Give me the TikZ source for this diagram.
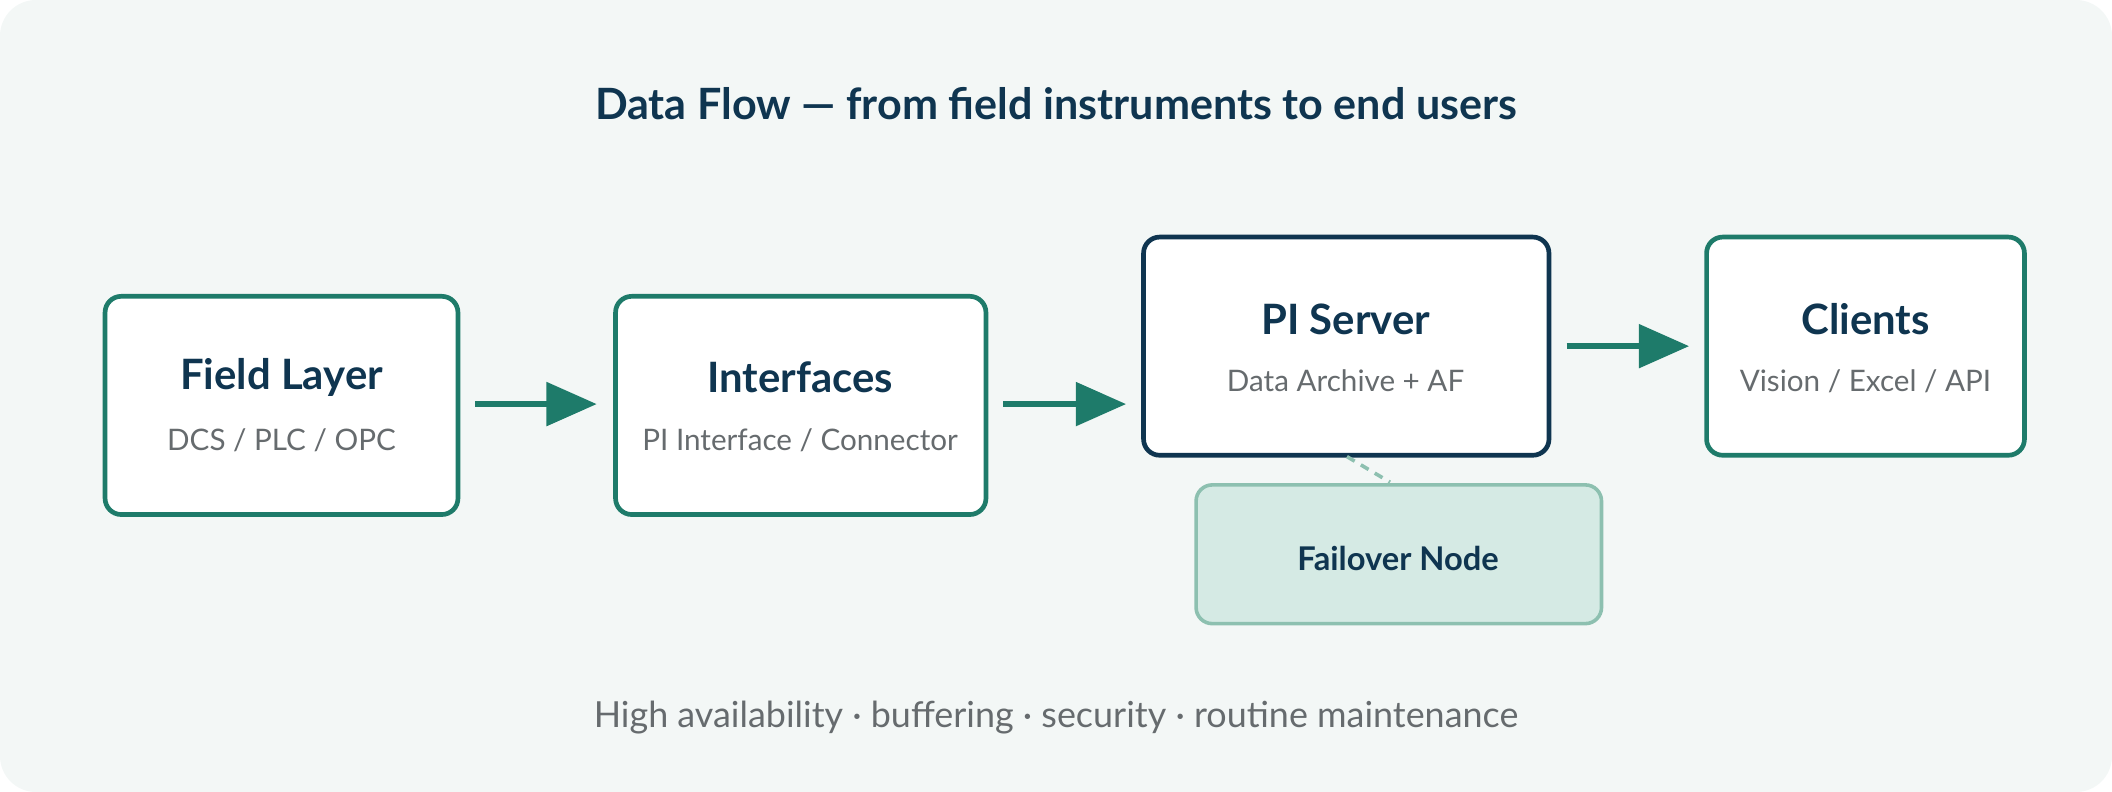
\documentclass[tikz,border=0pt]{standalone}
\usepackage{fontspec}
\setmainfont{Lato}
\usetikzlibrary{arrows.meta}
\definecolor{bg}{HTML}{F3F7F6}
\definecolor{navy}{HTML}{0F3550}
\definecolor{teal}{HTML}{1E7B6A}
\definecolor{gr}{HTML}{666B6E}
\definecolor{fofill}{HTML}{D5EAE4}
\definecolor{foline}{HTML}{8DC0B0}
\begin{document}
\begin{tikzpicture}[x=0.75pt,y=-0.75pt,
 box/.style={draw=teal,line width=2.6pt,fill=white,rounded corners=9pt},
 head/.style={font=\fontsize{23.3}{27}\selectfont\bfseries,text=navy},
 sub/.style={font=\fontsize{16.5}{20}\selectfont,text=gr},
 arr/.style={draw=teal,line width=3pt,-{Triangle[length=28pt,width=24pt]}}]
\fill[bg,rounded corners=20pt] (0,0) rectangle (1568,588);
\useasboundingbox (0,0) rectangle (1568,588);
\node[font=\fontsize{24}{28}\selectfont\bfseries,text=navy] (title) at (784,77) {Data Flow — from field instruments to end users};
\draw[box] (78,220) rectangle (340,382);
\draw[box] (457,220) rectangle (732,382);
\draw[box,draw=navy] (849,176) rectangle (1150,338);
\draw[box] (1267,176) rectangle (1503,338);
\draw[fill=fofill,draw=foline,line width=2pt,rounded corners=9pt] (888,360) rectangle (1189,463);
\node[head] (f1) at (209,280) {Field Layer};
\node[sub] (f2) at (209,327) {DCS / PLC / OPC};
\node[head] (i1) at (594,280) {Interfaces};
\node[sub] (i2) at (594,327) {PI Interface / Connector};
\node[head] (p1) at (999,237) {PI Server};
\node[sub] (p2) at (999,283) {Data Archive + AF};
\node[head] (c1) at (1385,237) {Clients};
\node[sub] (c2) at (1385,283) {Vision / Excel / API};
\node[font=\fontsize{18.2}{21}\selectfont\bfseries,text=navy] (fo) at (1038,415) {Failover Node};
\coordinate (a1) at (353,300); \coordinate (a2) at (443,300);
\coordinate (b1) at (745,300); \coordinate (b2) at (836,300);
\coordinate (c1s) at (1163,257); \coordinate (c2s) at (1254,257);
\draw[arr] (a1) -- (a2);
\draw[arr] (b1) -- (b2);
\draw[arr] (c1s) -- (c2s);
\coordinate (d1) at (1000,339); \coordinate (d2) at (1032,358);
\draw[foline,line width=2pt,dash pattern=on 5pt off 4pt] (d1) -- (d2);
\node[font=\fontsize{20}{24}\selectfont,text=gr] (foot) at (784,533) {High availability · buffering · security · routine maintenance};
\end{tikzpicture}
\end{document}
